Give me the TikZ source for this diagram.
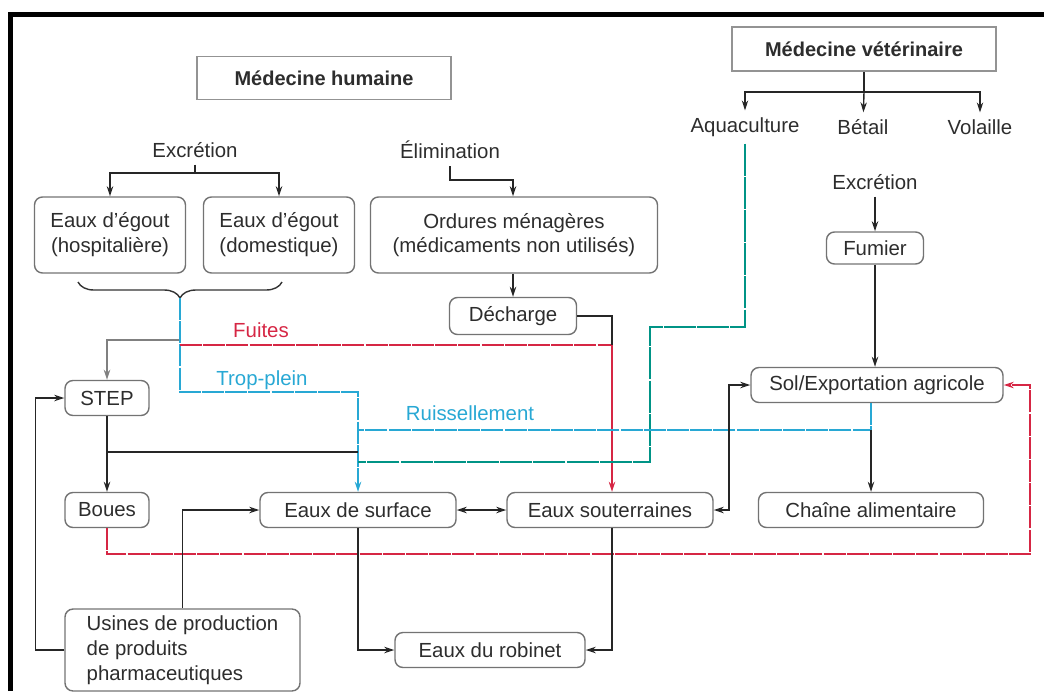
\documentclass[tikz,border=0pt]{standalone}
\usepackage{fontspec}
\setsansfont{Liberation Sans}
\usetikzlibrary{arrows.meta}
\usetikzlibrary{decorations.pathreplacing}

\definecolor{fuiteRed}{RGB}{214,38,68}
\definecolor{tropCyan}{RGB}{40,168,212}
\definecolor{aquaGreen}{RGB}{0,148,134}
\definecolor{txtGray}{RGB}{45,45,45}

\begin{document}
\begin{tikzpicture}[x = 0.5pt, y = -0.5pt, font=\sffamily\fontsize{10.2}{12.4}\selectfont, text = txtGray, >={Stealth[length=5pt, width=3.2pt]}]
	\tikzstyle{headStyle} = [shape = rectangle, draw = gray!85, line width = 0.8pt, font = \sffamily\bfseries\fontsize{10}{12}\selectfont]
	\tikzstyle{boxStyle} = [shape = rectangle, rounded corners = 4pt, draw = gray!90!black, line width = 0.7pt, minimum height = 17.5pt, align = center]
	\tikzstyle{flow} = [line width = 0.7pt, black!85]
	\tikzstyle{redFlow} = [line width = 0.7pt, fuiteRed, dash pattern = on 11pt off 0.6pt]
	\tikzstyle{cyanFlow} = [line width = 0.7pt, tropCyan, dash pattern = on 11pt off 0.6pt]
	\tikzstyle{greenFlow} = [line width = 0.7pt, aquaGreen, dash pattern = on 16pt off 0.6pt]
	\useasboundingbox (0,0) rectangle (1044,691);
	\draw[line width = 2.5pt, black] (10,691) -- (10,14) -- (1044,14);
	% sources
	\node[headStyle, minimum width = 127pt, minimum height = 21.5pt] (medH) at (324,78) {Médecine humaine};
	\node[headStyle, minimum width = 132pt, minimum height = 22pt] (medV) at (864,49) {Médecine vétérinaire};
	\node (aqua) at (745,127) {Aquaculture};
	\node (betail) at (863,127) {Bétail};
	\node (volaille) at (980,127) {Volaille};
	\node (excH) at (195,150) {Excrétion};
	\node (elim) at (450,150) {Élimination};
	\node (excV) at (875,182) {Excrétion};
	% boxes
	\node[boxStyle, minimum width = 75.5pt, minimum height = 38pt] (hosp) at (110,235) {Eaux d'égout\\(hospitalière)};
	\node[boxStyle, minimum width = 75.5pt, minimum height = 38pt] (dom) at (279,235) {Eaux d'égout\\(domestique)};
	\node[boxStyle, minimum width = 143.5pt, minimum height = 38pt] (ord) at (514,235) {Ordures ménagères\\(médicaments non utilisés)};
	\node[boxStyle, minimum width = 63.5pt, minimum height = 18.5pt] (dech) at (513,316) {Décharge};
	\node[boxStyle, minimum width = 48.5pt, minimum height = 16pt] (fumier) at (875,248) {Fumier};
	\node[boxStyle, minimum width = 126pt] (sol) at (877,385) {Sol/Exportation agricole};
	\node[boxStyle, minimum width = 42pt] (step) at (107,398) {STEP};
	\node[boxStyle, minimum width = 42pt] (boues) at (107,510) {Boues};
	\node[boxStyle, minimum width = 98pt] (surf) at (358,510) {Eaux de surface};
	\node[boxStyle, minimum width = 103pt] (sout) at (610,510) {Eaux souterraines};
	\node[boxStyle, minimum width = 112.5pt] (chaine) at (871,510) {Chaîne alimentaire};
	\node[boxStyle, minimum width = 117.5pt, minimum height = 40pt, align = left] (usines) at (182.5,650) {Usines de production\\de produits\\pharmaceutiques};
	\node[boxStyle, minimum width = 95pt] (robinet) at (490,650) {Eaux du robinet};
	% labels
	\node[text = fuiteRed] (lFuites) at (261,330) {Fuites};
	\node[text = tropCyan] (lTrop) at (262,380) {Trop-plein};
	\node[text = tropCyan] (lRuis) at (470,413) {Ruissellement};
	% junctions
	\coordinate (vJ) at (864,92);
	\coordinate (exJ) at (195,173);
	\coordinate (elJ) at (513,180);
	\coordinate (braceTip) at (180,298);
	\coordinate (stepJ) at (180,340);
	\coordinate (fuiteJ) at (180,345);
	\coordinate (fuiteK) at (612,345);
	\coordinate (tropJ) at (358,392);
	\coordinate (ruisJ) at (358,430);
	\coordinate (stepB) at (107,452);
	\coordinate (stepC) at (358,452);
	\coordinate (aquaA) at (650,327);
	\coordinate (aquaB) at (358,462);
	\coordinate (solJ) at (729,450);
	\coordinate (bouesJ) at (1030,554);
	% medecine veterinaire
	\draw[flow] (medV) -- (vJ);
	\draw[flow, ->] (vJ) -| (aqua);
	\draw[flow, ->] (vJ) -- (betail);
	\draw[flow, ->] (vJ) -| (volaille);
	\draw[flow, ->] (excV) -- (fumier);
	\draw[flow, ->] (fumier) -- (fumier |- sol.north);
	% medecine humaine
	\draw[flow] (excH) -- (exJ);
	\draw[flow, ->] (exJ) -| (hosp);
	\draw[flow, ->] (exJ) -| (dom);
	\draw[flow, ->] (elim) |- (elJ) -- (elJ |- ord.north);
	\draw[flow, ->] (dech |- ord.south) -- (dech);
	\draw[line width = 0.7pt, black!80, decorate, decoration = {brace, amplitude = 8pt}] (282,282) -- (78,282);
	\draw[gray, line width = 0.8pt, ->] (stepJ) -| (step);
	\draw[cyanFlow, ->] (braceTip) |- (tropJ) -- (surf);
	\draw[redFlow] (fuiteJ) -- (fuiteK);
	\draw[flow] (dech) -| (fuiteK);
	\draw[line width = 0.7pt, fuiteRed, ->] (fuiteK) -- (fuiteK |- sout.north);
	\draw[greenFlow] (aqua) |- (aquaA) |- (aquaB);
	\draw[cyanFlow] (sol.south -| chaine) -- (chaine |- ruisJ) -- (ruisJ);
	\draw[flow, ->] (chaine |- ruisJ) -- (chaine);
	% STEP et boues
	\draw[flow, ->] (step) -- (boues);
	\draw[flow] (stepB) -- (stepC);
	\draw[redFlow, ->] (boues) |- (bouesJ) |- (sol);
	% eaux
	\draw[flow, <->] (surf) -- (sout);
	\draw[flow, <->] (sout) -| (solJ) |- (sol);
	\draw[flow, ->] (usines.west) -- ++(-29,0) |- (step);
	\draw[flow, ->] (usines) |- (surf);
	\draw[flow, ->] (surf) |- (robinet);
	\draw[flow, ->] (sout.south -| fuiteK) |- (robinet);
\end{tikzpicture}
\end{document}
